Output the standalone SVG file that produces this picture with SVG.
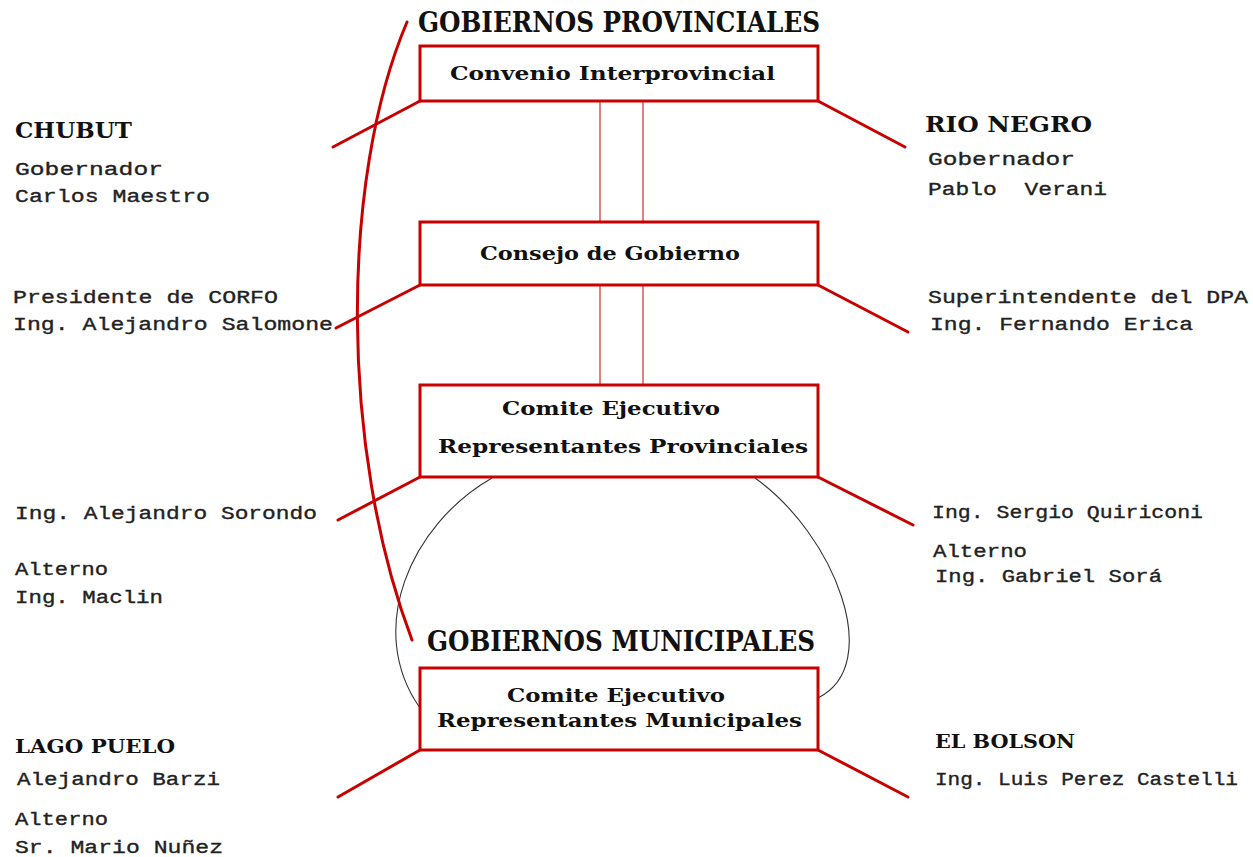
<svg xmlns="http://www.w3.org/2000/svg" width="1253" height="857" viewBox="0 0 1253 857">
<style>
.box{fill:#fff;stroke:#c80000;stroke-width:3}
.arm{stroke:#c80000;stroke-width:3;fill:none;stroke-linecap:round}
.thin{stroke:#d23c3c;stroke-width:1.3;fill:none}
.loop{stroke:#333;stroke-width:1.1;fill:none}
.bracket{stroke:#c80000;stroke-width:3;fill:none;stroke-linecap:round}
.body{font-family:"Liberation Mono","DejaVu Sans Mono",monospace;font-size:19px;fill:#222;stroke:#222;stroke-width:0.35}
.hd{font-family:"DejaVu Serif","Liberation Serif",serif;font-weight:bold;fill:#111}
.big{font-size:27px}
.mid{font-size:22px}
.sm{font-size:19px}
.bx{font-size:19px}
</style>
<rect width="1253" height="857" fill="#fff"/>
<g id="connectors">
  <line class="thin" x1="600" y1="101" x2="600" y2="222"/>
  <line class="thin" x1="643" y1="101" x2="643" y2="222"/>
  <line class="thin" x1="600" y1="285" x2="600" y2="385"/>
  <line class="thin" x1="643" y1="285" x2="643" y2="385"/>
  <line class="arm" x1="420" y1="101" x2="333" y2="147"/>
  <line class="arm" x1="818" y1="101" x2="905" y2="147"/>
  <line class="arm" x1="420" y1="285" x2="336" y2="328"/>
  <line class="arm" x1="818" y1="285" x2="908" y2="332"/>
  <line class="arm" x1="420" y1="477" x2="338" y2="520"/>
  <line class="arm" x1="818" y1="477" x2="913" y2="525"/>
  <line class="arm" x1="420" y1="750" x2="338" y2="797"/>
  <line class="arm" x1="818" y1="750" x2="908" y2="797"/>
  <path class="loop" d="M492,478 C410,525 365,630 420,708"/>
  <path class="loop" d="M755,478 C835,535 885,665 818,698"/>
  <path class="bracket" d="M407,22 C340,180 340,450 412,640"/>
</g>
<g id="title-provinciales">
  <text class="hd big" x="418" y="32" textLength="402" lengthAdjust="spacingAndGlyphs">GOBIERNOS PROVINCIALES</text>
</g>
<g id="convenio">
  <rect class="box" x="420" y="46" width="398" height="55"/>
  <text class="hd bx" x="450" y="80" textLength="325" lengthAdjust="spacingAndGlyphs">Convenio Interprovincial</text>
</g>
<g id="consejo">
  <rect class="box" x="420" y="222" width="398" height="63"/>
  <text class="hd bx" x="480" y="260" textLength="260" lengthAdjust="spacingAndGlyphs">Consejo de Gobierno</text>
</g>
<g id="comite-provincial">
  <rect class="box" x="420" y="385" width="398" height="92"/>
  <text class="hd bx" x="502" y="415" textLength="218" lengthAdjust="spacingAndGlyphs">Comite Ejecutivo</text>
  <text class="hd bx" x="438" y="453" textLength="370" lengthAdjust="spacingAndGlyphs">Representantes Provinciales</text>
</g>
<g id="title-municipales">
  <text class="hd big" x="427" y="651" textLength="388" lengthAdjust="spacingAndGlyphs">GOBIERNOS MUNICIPALES</text>
</g>
<g id="comite-municipal">
  <rect class="box" x="420" y="668" width="398" height="82"/>
  <text class="hd bx" x="507" y="702" textLength="218" lengthAdjust="spacingAndGlyphs">Comite Ejecutivo</text>
  <text class="hd bx" x="437" y="727" textLength="365" lengthAdjust="spacingAndGlyphs">Representantes Municipales</text>
</g>
<g id="chubut">
  <text class="hd mid" x="15" y="138" textLength="117" lengthAdjust="spacingAndGlyphs">CHUBUT</text>
  <text class="body" x="15" y="175" textLength="148" lengthAdjust="spacingAndGlyphs">Gobernador</text>
  <text class="body" x="15" y="202" textLength="195" lengthAdjust="spacingAndGlyphs">Carlos Maestro</text>
</g>
<g id="corfo">
  <text class="body" x="13" y="303" textLength="265" lengthAdjust="spacingAndGlyphs">Presidente de CORFO</text>
  <text class="body" x="13" y="330" textLength="320" lengthAdjust="spacingAndGlyphs">Ing. Alejandro Salomone</text>
</g>
<g id="sorondo">
  <text class="body" x="15" y="519" textLength="302" lengthAdjust="spacingAndGlyphs">Ing. Alejandro Sorondo</text>
  <text class="body" x="15" y="575" textLength="93" lengthAdjust="spacingAndGlyphs">Alterno</text>
  <text class="body" x="15" y="603" textLength="148" lengthAdjust="spacingAndGlyphs">Ing. Maclin</text>
</g>
<g id="lago-puelo">
  <text class="hd sm" x="15" y="753" textLength="160" lengthAdjust="spacingAndGlyphs">LAGO PUELO</text>
  <text class="body" x="17" y="785" textLength="203" lengthAdjust="spacingAndGlyphs">Alejandro Barzi</text>
  <text class="body" x="15" y="825" textLength="93" lengthAdjust="spacingAndGlyphs">Alterno</text>
  <text class="body" x="15" y="853" textLength="208" lengthAdjust="spacingAndGlyphs">Sr. Mario Nuñez</text>
</g>
<g id="rio-negro">
  <text class="hd mid" x="925" y="132" textLength="167" lengthAdjust="spacingAndGlyphs">RIO NEGRO</text>
  <text class="body" x="928" y="165" textLength="147" lengthAdjust="spacingAndGlyphs">Gobernador</text>
  <text class="body" x="928" y="195" textLength="179" lengthAdjust="spacingAndGlyphs" xml:space="preserve">Pablo  Verani</text>
</g>
<g id="dpa">
  <text class="body" x="928" y="303" textLength="320" lengthAdjust="spacingAndGlyphs">Superintendente del DPA</text>
  <text class="body" x="930" y="330" textLength="263" lengthAdjust="spacingAndGlyphs">Ing. Fernando Erica</text>
</g>
<g id="quiriconi">
  <text class="body" x="932" y="518" textLength="271" lengthAdjust="spacingAndGlyphs">Ing. Sergio Quiriconi</text>
  <text class="body" x="933" y="557" textLength="94" lengthAdjust="spacingAndGlyphs">Alterno</text>
  <text class="body" x="935" y="582" textLength="227" lengthAdjust="spacingAndGlyphs">Ing. Gabriel Sorá</text>
</g>
<g id="el-bolson">
  <text class="hd sm" x="935" y="748" textLength="140" lengthAdjust="spacingAndGlyphs">EL BOLSON</text>
  <text class="body" x="935" y="785" textLength="303" lengthAdjust="spacingAndGlyphs">Ing. Luis Perez Castelli</text>
</g>
</svg>
